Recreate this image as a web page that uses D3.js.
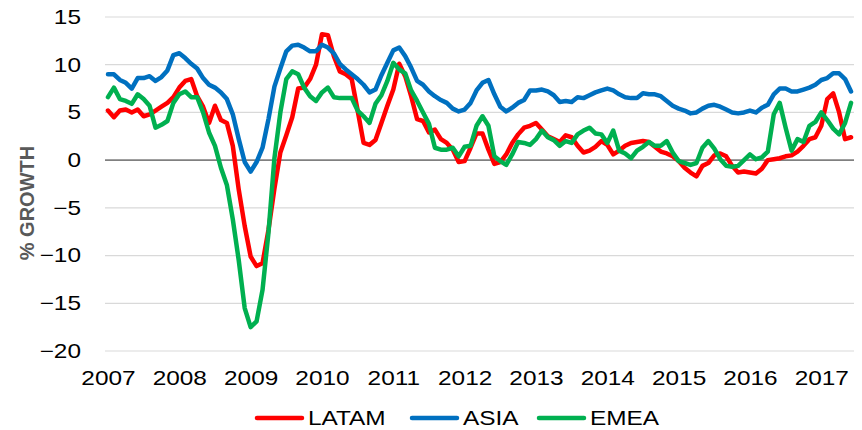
<!DOCTYPE html>
<html>
<head>
<meta charset="utf-8">
<script src="https://cdn.jsdelivr.net/npm/d3@7"></script>
<style>
    body { margin: 0; background: #fff; }
    svg { display: block; font-family: "Liberation Sans", Arial, sans-serif; }
</style>
</head>
<body>
<svg id="chart" width="862" height="430"></svg>
<script>
// Monthly growth, Jan 2007 - Jun 2017
const years = [2007, 2008, 2009, 2010, 2011, 2012, 2013, 2014, 2015, 2016, 2017];
const yTicks = [-20, -15, -10, -5, 0, 5, 10, 15];

const latam = [
    5.2, 4.5, 5.2, 5.3, 5.0, 5.3, 4.6, 4.8, 5.2, 5.6, 6.0, 6.6,
    7.6, 8.3, 8.5, 6.7, 5.6, 3.9, 5.7, 4.2, 3.9, 1.5, -3.1, -6.9,
    -10.1, -11.1, -10.8, -7.3, -3.0, 0.8, 2.6, 4.5, 7.5, 7.6, 8.5, 10.0,
    13.2, 13.1, 10.9, 9.3, 9.0, 8.5, 5.2, 1.8, 1.6, 2.1, 3.9, 5.7,
    7.4, 10.1, 8.8, 6.7, 4.3, 4.1, 2.9, 3.2, 2.2, 1.8, 1.1, -0.2,
    -0.1, 1.3, 2.8, 2.8, 1.1, -0.4, -0.2, 0.6, 1.8, 2.7, 3.4, 3.6,
    3.9, 3.2, 2.5, 2.2, 1.9, 2.6, 2.4, 1.5, 0.8, 1.0, 1.4, 2.0,
    1.6, 0.6, 1.0, 1.5, 1.8, 1.9, 2.0, 1.9, 1.4, 0.9, 0.7, 0.4,
    -0.1, -0.8, -1.3, -1.7, -0.6, -0.3, 0.5, 0.7, 0.4, -0.6, -1.3, -1.2,
    -1.3, -1.4, -0.9, 0.0, 0.1, 0.2, 0.4, 0.5, 0.9, 1.5, 2.2, 2.4,
    3.6, 6.4, 7.0, 5.0, 2.2, 2.4
];
const asia = [
    9.0, 9.0, 8.4, 8.1, 7.5, 8.6, 8.6, 8.8, 8.3, 8.7, 9.4, 11.0,
    11.2, 10.7, 10.1, 9.6, 8.6, 7.9, 7.6, 7.1, 6.4, 4.8, 2.2, -0.2,
    -1.2, -0.2, 1.3, 4.3, 7.7, 9.6, 11.4, 12.0, 12.1, 11.8, 11.4, 11.4,
    12.1, 11.8, 11.2, 10.1, 9.5, 9.0, 8.5, 7.9, 7.1, 7.4, 8.9, 10.2,
    11.5, 11.8, 10.9, 9.7, 8.3, 7.9, 7.2, 6.7, 6.3, 6.0, 5.4, 5.1,
    5.3, 6.0, 7.3, 8.1, 8.4, 6.9, 5.6, 5.1, 5.5, 6.0, 6.3, 7.3,
    7.3, 7.4, 7.2, 6.8, 6.1, 6.2, 6.1, 6.6, 6.5, 6.8, 7.1, 7.3,
    7.5, 7.3, 6.9, 6.6, 6.5, 6.5, 7.0, 6.9, 6.9, 6.7, 6.2, 5.7,
    5.4, 5.2, 4.9, 5.0, 5.4, 5.7, 5.8, 5.6, 5.3, 5.0, 4.9, 5.0,
    5.2, 5.0, 5.5, 5.8, 6.9, 7.5, 7.5, 7.2, 7.2, 7.4, 7.6, 7.9,
    8.4, 8.6, 9.1, 9.1, 8.5, 7.2
];
const emea = [
    6.6, 7.6, 6.4, 6.2, 5.9, 6.9, 6.4, 5.7, 3.4, 3.7, 4.1, 6.0,
    6.9, 7.2, 6.6, 6.6, 5.0, 2.9, 1.5, -0.8, -2.6, -6.2, -10.5, -15.5,
    -17.5, -16.9, -13.6, -7.6, 0.2, 5.0, 8.5, 9.3, 9.0, 7.6, 6.7, 6.2,
    7.1, 7.6, 6.6, 6.5, 6.5, 6.5, 5.2, 4.6, 3.9, 5.9, 6.8, 8.3,
    10.2, 9.5, 9.1, 7.3, 6.2, 5.0, 3.8, 1.3, 1.1, 1.1, 1.3, 0.4,
    1.4, 1.5, 3.6, 4.6, 3.6, 0.4, -0.1, -0.5, 0.6, 1.9, 1.8, 1.6,
    2.2, 3.1, 2.4, 2.1, 1.5, 2.0, 1.8, 2.7, 3.1, 3.4, 2.8, 2.7,
    1.8, 3.1, 1.0, 0.7, 0.2, 1.0, 1.4, 1.9, 1.5, 1.5, 2.0, 0.8,
    -0.1, -0.3, -0.5, -0.3, 1.3, 2.0, 1.2, 0.1, -0.6, -0.7, -0.6, 0.0,
    0.6, 0.1, 0.3, 0.9, 4.8, 6.0, 3.4, 1.0, 2.2, 1.9, 3.6, 4.0,
    5.0, 4.2, 3.3, 2.7, 3.9, 6.0
];

const seriesNames = ['LATAM', 'ASIA', 'EMEA'];
const seriesColors = ['#ff0000', '#0070c0', '#00b050'];
const seriesValues = [latam, asia, emea];

// Month keys like "2007-01"
const months = [];
years.forEach(yr => d3.range(1, 13).forEach(m => months.push(`${yr}-${String(m).padStart(2, '0')}`)));
months.length = latam.length;

const svg = d3.select('#chart');
const textStretch = 1.22;

const x = d3.scalePoint()
    .domain(months)
    .range([105, 854])
    .padding(0.5);

const y = d3.scaleLinear()
    .domain([-20, 15])
    .range([351, 17]);

// Horizontal gridlines
svg.append('g')
    .selectAll('line')
    .data(yTicks.filter(d => d !== 0))
    .enter()
    .append('line')
    .attr('x1', 105)
    .attr('x2', 854)
    .attr('y1', d => y(d))
    .attr('y2', d => y(d))
    .attr('stroke', '#d9d9d9')
    .attr('stroke-width', 1.2);

// Y axis
const yAxis = svg.append('g')
    .attr('transform', 'translate(105,0)')
    .call(d3.axisLeft(y).tickValues(yTicks).tickSize(0).tickPadding(24));
yAxis.select('.domain').remove();
yAxis.selectAll('text')
    .attr('x', -24 / textStretch)
    .attr('transform', `scale(${textStretch},1)`)
    .attr('fill', '#000')
    .style('font-size', '20px');

// X axis, one label per January
const xAxis = svg.append('g')
    .attr('transform', 'translate(0,351)')
    .call(d3.axisBottom(x)
        .tickValues(years.map(yr => `${yr}-01`))
        .tickFormat(d => d.slice(0, 4))
        .tickSize(0)
        .tickPadding(20));
xAxis.select('.domain').remove();
xAxis.selectAll('text')
    .attr('transform', `scale(${textStretch},1)`)
    .attr('fill', '#000')
    .style('font-size', '20px');

// Zero line
svg.append('line')
    .attr('x1', 105)
    .attr('x2', 854)
    .attr('y1', y(0))
    .attr('y2', y(0))
    .attr('stroke', '#808080')
    .attr('stroke-width', 1.6);

// Axis title
svg.append('text')
    .attr('transform', 'translate(34,203) rotate(-90)')
    .attr('text-anchor', 'middle')
    .attr('fill', '#595959')
    .style('font-size', '20px')
    .style('font-weight', 'bold')
    .text('% GROWTH');

// Lines
const line = d3.line()
    .x((d, i) => x(months[i]))
    .y(d => y(d));

svg.append('g')
    .selectAll('path')
    .data(seriesValues)
    .enter()
    .append('path')
    .attr('d', d => line(d))
    .attr('fill', 'none')
    .attr('stroke', (d, i) => seriesColors[i])
    .attr('stroke-width', 4.5)
    .attr('stroke-linejoin', 'round')
    .attr('stroke-linecap', 'round');

// Legend
const legendX = [257, 412, 539];
const legend = svg.append('g')
    .selectAll('g')
    .data(seriesNames)
    .enter()
    .append('g')
    .attr('transform', (d, i) => `translate(${legendX[i]},418)`);

legend.append('line')
    .attr('x1', 0)
    .attr('x2', 45)
    .attr('stroke', (d, i) => seriesColors[i])
    .attr('stroke-width', 4.5)
    .attr('stroke-linecap', 'round');

legend.append('text')
    .attr('x', 51 / textStretch)
    .attr('y', 7)
    .attr('transform', `scale(${textStretch},1)`)
    .attr('fill', '#000')
    .style('font-size', '20px')
    .text(d => d);
</script>
</body>
</html>
